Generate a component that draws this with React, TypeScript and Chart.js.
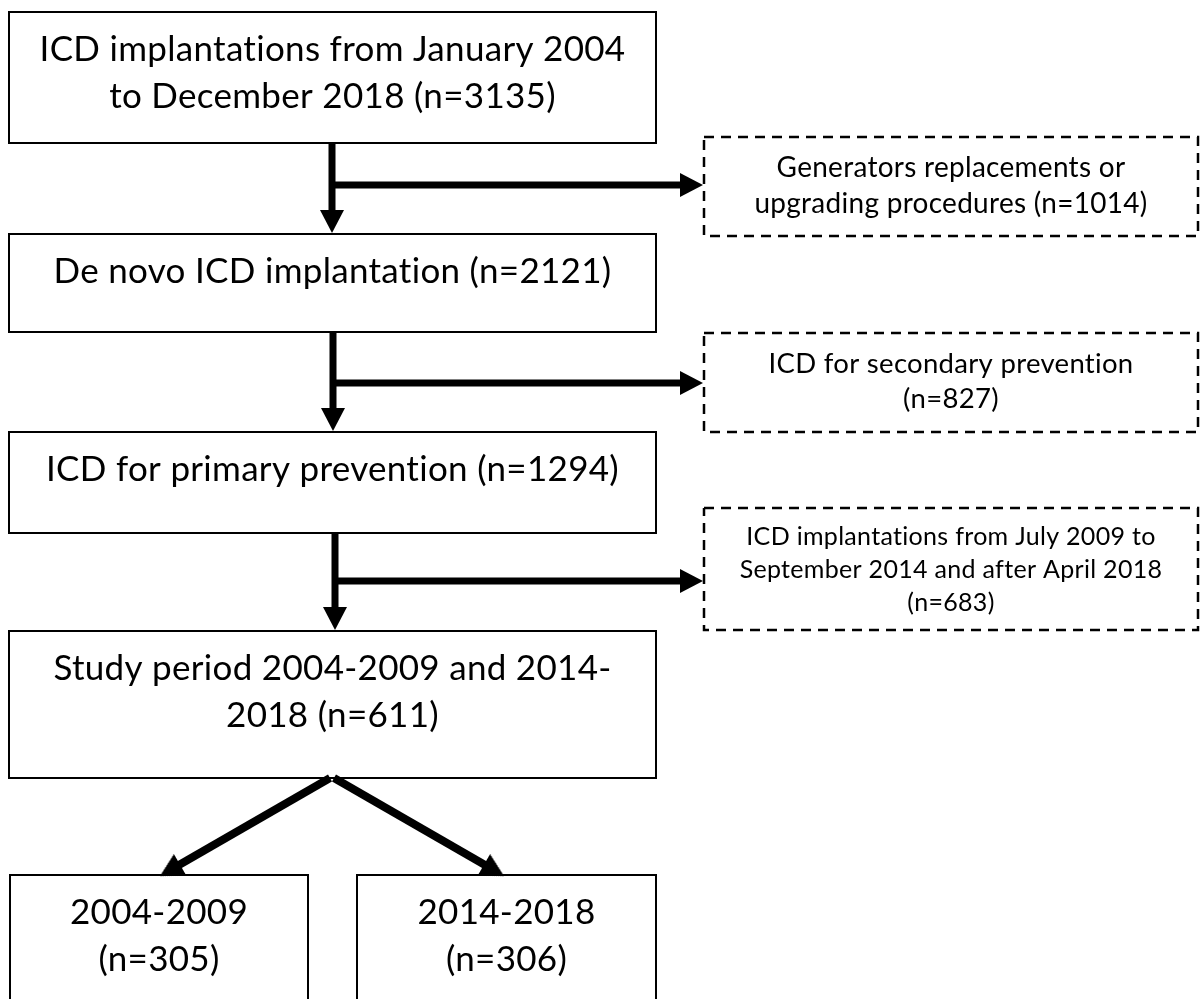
import React, { useEffect, useRef } from "react";
import { Chart, registerables } from "chart.js";

Chart.register(...registerables);

// ---- content ----
const stepText: string[][] = [
  ["ICD implantations from January 2004", "to December 2018"],
  ["De novo ICD implantation"],
  ["ICD for primary prevention"],
  ["Study period 2004-2009 and 2014-", "2018"],
  ["2004-2009", ""],
  ["2014-2018", ""],
];
const stepCounts = [3135, 2121, 1294, 611, 305, 306];

const exclusionText: string[][] = [
  ["Generators replacements or", "upgrading procedures"],
  ["ICD for secondary prevention", ""],
  ["ICD implantations from July 2009 to", "September 2014 and after April 2018", ""],
];
const exclusionCounts = [1014, 827, 683];

// ---- layout (data units of the hidden scales, 0..1200 x 0..999) ----
const stepBoxes = [
  [9, 656, 12, 143],
  [9, 656, 234, 332],
  [9, 656, 432, 533],
  [9, 656, 631, 778],
  [10, 308, 875, 1015],
  [357, 656, 875, 1015],
];
const exclusionBoxes = [
  [704, 1198, 137, 236],
  [704, 1198, 333, 432],
  [704, 1198, 508, 630],
];
const arrows = [
  [332, 143, 332, 233],
  [333, 332, 333, 431],
  [335, 533, 335, 630],
  [332, 185, 703, 185],
  [333, 383, 703, 383],
  [335, 581, 703, 581],
  [330, 778, 160, 876],
  [334, 778, 504, 876],
];
const arrowWidths = [7, 7, 7, 7, 7, 7, 8, 8];

const STEP_FIT = 579; // width of widest line of first box
const STEP_FIRST = 49;
const STEP_SPACING = 47;
const EXC_FIT = [387, 359, 415];
const EXC_FIRST = [40, 40, 37];
const EXC_SPACING = [36, 35, 33];
const HEAD_LEN = 23;
const HEAD_HALF = 12;
const FONT = "Lato, 'Open Sans', sans-serif";

function withCount(lines: string[], n: number): string[] {
  const out = lines.slice();
  out[out.length - 1] = (out[out.length - 1] + " (n=" + n + ")").trim();
  return out;
}

function rectPoints(b: number[]) {
  const [x0, x1, y0, y1] = b;
  return [
    { x: x0, y: y0 },
    { x: x1, y: y0 },
    { x: x1, y: y1 },
    { x: x0, y: y1 },
    { x: x0, y: y0 },
  ];
}

function makeHead(): HTMLCanvasElement {
  const c = document.createElement("canvas");
  const s = HEAD_LEN * 2 + 2;
  c.width = s;
  c.height = s;
  const g = c.getContext("2d")!;
  const cx = s / 2;
  g.fillStyle = "#000";
  g.beginPath();
  g.moveTo(cx, cx);
  g.lineTo(cx - HEAD_LEN, cx - HEAD_HALF);
  g.lineTo(cx - HEAD_LEN, cx + HEAD_HALF);
  g.closePath();
  g.fill();
  return c;
}

export default function App() {
  const ref = useRef<HTMLCanvasElement | null>(null);
  useEffect(() => {
    document.body.style.margin = "0";
    const canvas = ref.current!;
    const head = makeHead();

    const datasets: any[] = [];
    stepBoxes.forEach((b) =>
      datasets.push({
        data: rectPoints(b),
        showLine: true,
        borderColor: "#000",
        borderWidth: 2,
        pointRadius: 0,
        borderJoinStyle: "miter",
        borderCapStyle: "square",
        fill: false,
      })
    );
    exclusionBoxes.forEach((b) =>
      datasets.push({
        data: rectPoints(b),
        showLine: true,
        borderColor: "#000",
        borderWidth: 2.5,
        borderDash: [10, 7],
        pointRadius: 0,
        borderJoinStyle: "miter",
        fill: false,
      })
    );
    arrows.forEach((a, i) => {
      const [x0, y0, x1, y1] = a;
      const dx = x1 - x0;
      const dy = y1 - y0;
      const len = Math.hypot(dx, dy);
      const k = (len - HEAD_LEN * 0.8) / len;
      datasets.push({
        data: [
          { x: x0, y: y0 },
          { x: x0 + dx * k, y: y0 + dy * k },
        ],
        showLine: true,
        borderColor: "#000",
        borderWidth: arrowWidths[i],
        borderCapStyle: "butt",
        pointRadius: 0,
        fill: false,
      });
    });
    datasets.push({
      data: arrows.map((a) => ({ x: a[2], y: a[3] })),
      showLine: false,
      pointStyle: head,
      pointRadius: 1,
      pointHoverRadius: 1,
      rotation: (ctx: any) => {
        const a = arrows[ctx.dataIndex];
        if (!a) return 0;
        const ch = ctx.chart;
        const xs = ch.scales.x;
        const ys = ch.scales.y;
        const dx = xs.getPixelForValue(a[2]) - xs.getPixelForValue(a[0]);
        const dy = ys.getPixelForValue(a[3]) - ys.getPixelForValue(a[1]);
        return (Math.atan2(dy, dx) * 180) / Math.PI;
      },
    });

    const textPlugin = {
      id: "flowText",
      afterDatasetsDraw(chart: any) {
        const ctx = chart.ctx as CanvasRenderingContext2D;
        const xs = chart.scales.x;
        const ys = chart.scales.y;
        ctx.save();
        ctx.fillStyle = "#000";
        ctx.textAlign = "center";
        ctx.textBaseline = "alphabetic";
        try {
          (ctx as any).letterSpacing = "0.3px";
        } catch (e) {}
        // main step boxes: one common size fitted on the first box
        ctx.font = "100px " + FONT;
        const first = withCount(stepText[0], stepCounts[0]);
        const w0 = Math.max(...first.map((l) => ctx.measureText(l).width));
        const stepSize = (100 * STEP_FIT) / w0;
        ctx.font = stepSize.toFixed(2) + "px " + FONT;
        stepBoxes.forEach((b, i) => {
          const lines = withCount(stepText[i], stepCounts[i]);
          const cx = xs.getPixelForValue((b[0] + b[1]) / 2);
          lines.forEach((l, j) => {
            const y = ys.getPixelForValue(b[2] + STEP_FIRST + j * STEP_SPACING);
            ctx.fillText(l, cx, y);
          });
        });
        exclusionBoxes.forEach((b, i) => {
          const lines = withCount(exclusionText[i], exclusionCounts[i]);
          ctx.font = "100px " + FONT;
          const w = Math.max(...lines.map((l) => ctx.measureText(l).width));
          const size = (100 * EXC_FIT[i]) / w;
          ctx.font = size.toFixed(2) + "px " + FONT;
          const cx = xs.getPixelForValue((b[0] + b[1]) / 2);
          lines.forEach((l, j) => {
            const y = ys.getPixelForValue(b[2] + EXC_FIRST[i] + j * EXC_SPACING[i]);
            ctx.fillText(l, cx, y);
          });
        });
        ctx.restore();
      },
    };

    const chart = new Chart(canvas, {
      type: "scatter",
      data: { datasets },
      options: {
        animation: false,
        responsive: false,
        devicePixelRatio: 1,
        events: [],
        layout: { padding: 0, autoPadding: false },
        scales: {
          x: { type: "linear", min: 0, max: 1200, display: false },
          y: { type: "linear", min: 0, max: 999, reverse: true, display: false },
        },
        plugins: {
          legend: { display: false },
          tooltip: { enabled: false },
          title: { display: false },
        },
      },
      plugins: [textPlugin],
    });
    return () => chart.destroy();
  }, []);

  return (
    <div style={{ position: "fixed", left: 0, top: 0, width: 1200, height: 999, background: "#fff" }}>
      <canvas ref={ref} width={1200} height={999} style={{ display: "block" }} />
    </div>
  );
}
